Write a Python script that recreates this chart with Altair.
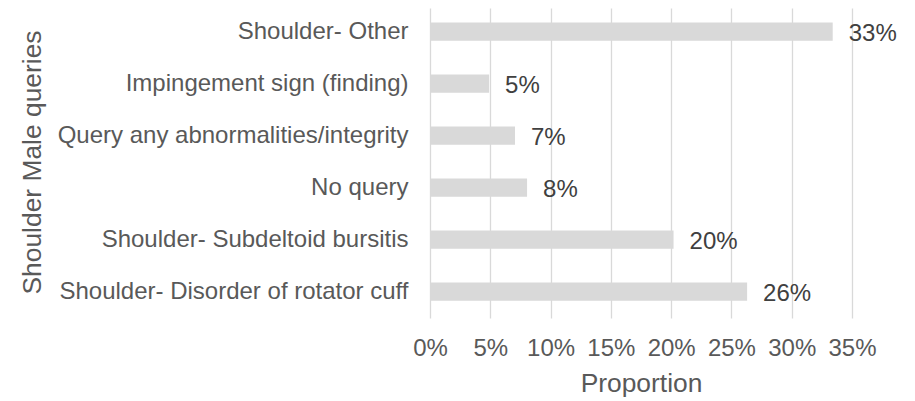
import altair as alt
import pandas as pd

categories = [
    "Shoulder- Other",
    "Impingement sign (finding)",
    "Query any abnormalities/integrity",
    "No query",
    "Shoulder- Subdeltoid bursitis",
    "Shoulder- Disorder of rotator cuff\u00a0",
]
proportions = [0.334, 0.049, 0.0705, 0.0805, 0.202, 0.263]
value_labels = ["33%", "5%", "7%", "8%", "20%", "26%"]
x_ticks = [0, 0.05, 0.10, 0.15, 0.20, 0.25, 0.30, 0.35]

df = pd.DataFrame({"query": categories, "proportion": proportions, "label": value_labels})

FONT = "Liberation Sans"

y_enc = alt.Y(
    "query:N",
    sort=categories,
    scale=alt.Scale(paddingInner=0.65, paddingOuter=0.3058, align=0.456),
    axis=alt.Axis(
        title="Shoulder Male queries",
        grid=False, domain=False, ticks=False,
        labelPadding=22, labelLimit=600, labelFontSize=24, labelColor="#595959", labelFont=FONT,
        titleFontSize=26.4, titleColor="#595959", titleFont=FONT, titleFontWeight="normal",
        titleAngle=-90, titleX=-398, titleY=154, titleBaseline="middle", titleAlign="center",
    ),
)

x_enc = alt.X(
    "proportion:Q",
    scale=alt.Scale(domain=[0, 0.35], nice=False),
    axis=alt.Axis(
        title="Proportion", values=x_ticks, format=".0%", labelOverlap=False,
        labelFlush=False, labelAlign="center",
        grid=True, gridColor="#d9d9d9", gridWidth=1.3, domain=False, ticks=False,
        labelPadding=18, labelFontSize=24, labelColor="#595959", labelFont=FONT,
        titleFontSize=26.4, titleColor="#595959", titleFont=FONT, titleFontWeight="normal",
        titleY=73, titleBaseline="alphabetic",
    ),
)

bars = alt.Chart(df).mark_bar(color="#d9d9d9").encode(x=x_enc, y=y_enc)
text = alt.Chart(df).mark_text(
    align="left", baseline="middle", dx=16, dy=2, fontSize=24, font=FONT, color="#404040"
).encode(x="proportion:Q", y=alt.Y("query:N", sort=categories), text="label:N")

chart = (
    alt.layer(bars, text)
    .properties(
        width=422, height=310,
        autosize=alt.AutoSizeParams(type="none"),
        padding={"left": 422, "top": 0, "right": 55, "bottom": 80},
    )
    .configure_view(stroke=None)
)

chart.save("out.html", embed_options={"renderer": "svg", "actions": False})
